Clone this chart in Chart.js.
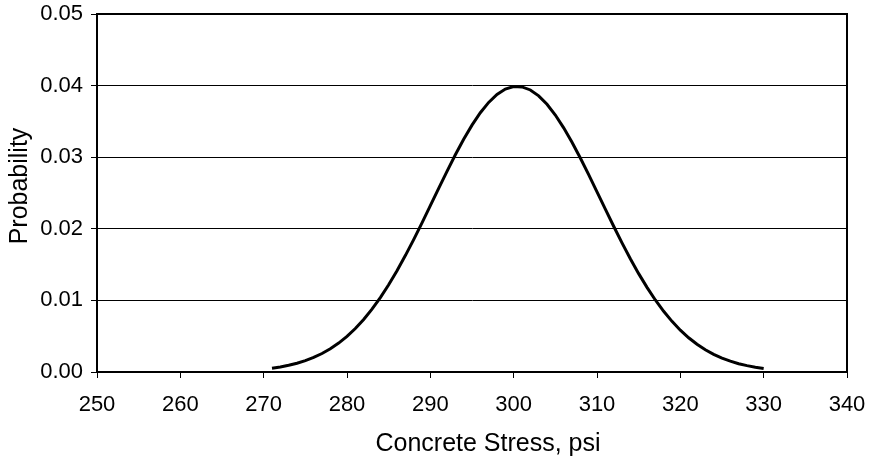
<!DOCTYPE html>
<html>
<head>
<meta charset="utf-8">
<script src="https://cdn.jsdelivr.net/npm/chart.js@4"></script>
<style>
html,body{margin:0;padding:0;background:#fff;}
#wrap{width:870px;height:459px;position:relative;}
</style>
</head>
<body>
<div id="wrap"><canvas id="c" width="870" height="459"></canvas></div>
<script>
// Concrete stress (psi) and probability
const stress = [271,272,273,274,275,276,277,278,279,280,281,282,283,284,285,286,287,288,289,290,
  291,292,293,294,295,296,297,298,299,300,301,302,303,304,305,306,307,308,309,310,
  311,312,313,314,315,316,317,318,319,320,321,322,323,324,325,326,327,328,329,330];
const probability = [0.00053,0.00071,0.00094,0.00122,0.00159,0.00203,0.00258,0.00325,0.00404,0.00498,
  0.00608,0.00734,0.00878,0.01040,0.01219,0.01415,0.01626,0.01849,0.02083,0.02323,
  0.02565,0.02803,0.03034,0.03251,0.03448,0.03621,0.03765,0.03876,0.03951,0.03986,
  0.03982,0.03939,0.03857,0.03739,0.03589,0.03410,0.03209,0.02989,0.02756,0.02516,
  0.02275,0.02036,0.01804,0.01582,0.01374,0.01182,0.01006,0.00848,0.00707,0.00584,
  0.00478,0.00387,0.00310,0.00246,0.00194,0.00151,0.00116,0.00089,0.00067,0.00050];
const xTitle = "Concrete Stress, psi";
const yTitle = "Probability";
const xMin = 250, xMax = 340, xStep = 10;
const yMin = 0, yMax = 0.05, yStep = 0.01;

const FONT = '"Liberation Sans", Arial, sans-serif';

const framePlugin = {
  id: 'frame',
  afterDraw(chart) {
    const {ctx, chartArea: a} = chart;
    ctx.save();
    ctx.strokeStyle = '#000';
    ctx.lineWidth = 2;
    ctx.strokeRect(a.left, a.top, a.right - a.left, a.bottom - a.top);
    ctx.fillStyle = '#000';
    ctx.font = '25px ' + FONT;
    ctx.textAlign = 'center';
    ctx.textBaseline = 'alphabetic';
    ctx.fillText(xTitle, 488, 451);
    ctx.translate(27, 186);
    ctx.rotate(-Math.PI / 2);
    ctx.fillText(yTitle, 0, 0);
    ctx.restore();
  }
};

function noPad(s) {
  s.paddingLeft = 0; s.paddingRight = 0; s.paddingTop = 0; s.paddingBottom = 0;
}

new Chart(document.getElementById('c'), {
  type: 'scatter',
  data: {
    datasets: [{
      data: stress.map((x, i) => ({x: x, y: probability[i]})),
      showLine: true,
      borderColor: '#000',
      borderWidth: 3,
      pointRadius: 0,
      tension: 0,
      fill: false
    }]
  },
  options: {
    responsive: false,
    animation: false,
    events: [],
    layout: {padding: {top: 14, right: 23, left: 0, bottom: 0}},
    plugins: {legend: {display: false}, tooltip: {enabled: false}},
    scales: {
      x: {
        type: 'linear', min: xMin, max: xMax,
        afterFit(s) { s.height = 87; noPad(s); },
        ticks: {stepSize: xStep, color: '#000', font: {family: FONT, size: 22}, padding: 14, maxRotation: 0},
        grid: {drawOnChartArea: false, drawTicks: true, tickLength: 6, tickColor: '#000', lineWidth: 1},
        border: {display: true, color: '#000', width: 2}
      },
      y: {
        min: yMin, max: yMax,
        afterFit(s) { s.width = 97; noPad(s); },
        ticks: {stepSize: yStep, color: '#000', font: {family: FONT, size: 22}, padding: 8,
          callback: v => Number(v).toFixed(2)},
        grid: {color: '#000', lineWidth: 1, drawTicks: true, tickLength: 6, tickColor: '#000'},
        border: {display: true, color: '#000', width: 2}
      }
    }
  },
  plugins: [framePlugin]
});
</script>
</body>
</html>
